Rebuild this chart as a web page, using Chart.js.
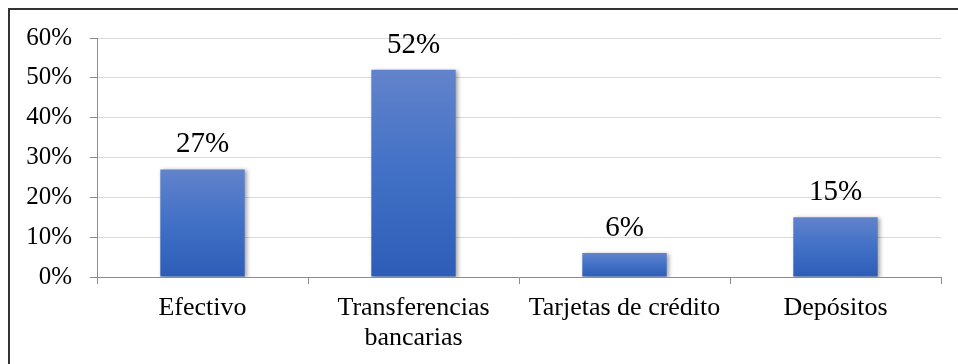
<!DOCTYPE html>
<html lang="es">
<head>
<meta charset="utf-8">
<title>Medios de pago</title>
<script src="https://cdn.jsdelivr.net/npm/chart.js@4"></script>
<style>
  body { margin: 0; background: #fff; }
  #wrap { position: relative; width: 958px; height: 364px; }
  #frame {
    position: absolute; left: 8px; top: 8px; right: -4px; bottom: -4px;
    border-left: 2px solid #333; border-top: 2px solid #333;
    pointer-events: none;
  }
</style>
</head>
<body>
<div id="wrap">
  <canvas id="myChart" width="958" height="364"></canvas>
  <div id="frame"></div>
</div>
<script>
const categories = ["Efectivo", ["Transferencias", "bancarias"], "Tarjetas de crédito", "Depósitos"];
const shares = [27, 52, 6, 15];
const yTicks = [0, 10, 20, 30, 40, 50, 60];

const serif = "'Liberation Serif', 'Times New Roman', serif";

// per-bar vertical gradient, lighter at the top
function barFill(c) {
	const chart = c.chart;
	if (!chart.chartArea || c.raw === undefined) return "#4470c4";
	const y = chart.scales.y;
	const top = y.getPixelForValue(c.raw);
	const bottom = y.getPixelForValue(0);
	const g = chart.ctx.createLinearGradient(0, top, 0, bottom);
	g.addColorStop(0, "#6283cb");
	g.addColorStop(0.5, "#4170c6");
	g.addColorStop(1, "#2d5db7");
	return g;
}

// soft shadow behind the bars
const barShadow = {
	id: "barShadow",
	beforeDatasetsDraw(chart) {
		const ctx = chart.ctx;
		ctx.save();
		ctx.shadowColor = "rgba(0,0,0,0.35)";
		ctx.shadowBlur = 4;
		ctx.shadowOffsetX = 2;
		ctx.shadowOffsetY = 1;
	},
	afterDatasetsDraw(chart) {
		chart.ctx.restore();
	},
};

// value labels above each bar
const valueLabels = {
	id: "valueLabels",
	afterDatasetsDraw(chart) {
		const ctx = chart.ctx;
		const meta = chart.getDatasetMeta(0);
		ctx.save();
		ctx.shadowColor = "transparent";
		ctx.font = "29px " + serif;
		ctx.fillStyle = "#000";
		ctx.textAlign = "center";
		ctx.textBaseline = "alphabetic";
		meta.data.forEach((bar, i) => {
			ctx.fillText(shares[i] + "%", bar.x, bar.y - 17);
		});
		ctx.restore();
	},
};

const ctx = document.getElementById("myChart");

new Chart(ctx, {
	type: "bar",
	data: {
		labels: categories,
		datasets: [
			{
				data: shares,
				backgroundColor: barFill,
				categoryPercentage: 1,
				barPercentage: 0.4,
			},
		],
	},
	options: {
		responsive: false,
		animation: false,
		layout: { padding: { left: 0, right: 17, top: 38, bottom: 0 } },
		plugins: {
			legend: { display: false },
			tooltip: { enabled: false },
		},
		scales: {
			x: {
				grid: {
					offset: true,
					drawOnChartArea: false,
					tickLength: 7,
					color: "#8c8c8c",
				},
				border: { color: "#8c8c8c" },
				ticks: {
					color: "#000",
					font: { family: serif, size: 26, lineHeight: 1.15 },
					padding: 9,
					maxRotation: 0,
					autoSkip: false,
				},
				afterFit(scale) { scale.height = 87; },
			},
			y: {
				min: 0,
				max: 60,
				afterBuildTicks(scale) {
					scale.ticks = yTicks.map((v) => ({ value: v }));
				},
				grid: {
					color: "#d9d9d9",
					tickColor: "#8c8c8c",
					tickLength: 7,
				},
				border: { color: "#8c8c8c" },
				ticks: {
					color: "#000",
					font: { family: serif, size: 25 },
					padding: 18,
					callback: (v) => v + "%",
				},
				afterFit(scale) { scale.width = 97; },
			},
		},
	},
	plugins: [barShadow, valueLabels],
});
</script>
</body>
</html>
